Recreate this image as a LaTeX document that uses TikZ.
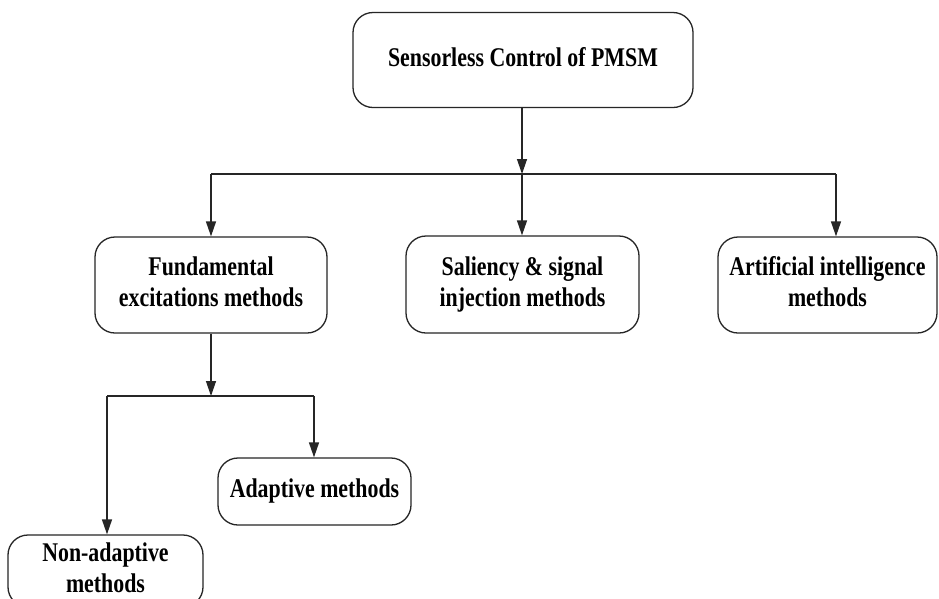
\documentclass[tikz,border=0pt]{standalone}
\usepackage{fontspec}
\setmainfont{Liberation Serif}
\usetikzlibrary{arrows.meta}
\newcommand{\blbl}[1]{\scalebox{0.81}[1]{\fontsize{27}{31}\selectfont\bfseries\begin{tabular}{@{}c@{}}#1\end{tabular}}}
\tikzset{
  box/.style={draw=black!85, line width=1.3pt, rounded corners=20pt, inner sep=0pt, align=center},
  conn/.style={draw=black!85, line width=1.3pt},
  arr/.style={conn, -{Triangle[length=15pt,width=10pt]}}
}
\begin{document}
\begin{tikzpicture}[x=1pt,y=1pt]
\useasboundingbox (0,0) rectangle (939,-598);
\fill[white] (0,0) rectangle (939,-598);
\node[box, minimum width=340pt, minimum height=95pt] (top) at (523,-60) {\blbl{Sensorless Control of PMSM}};
\node[box, minimum width=232pt, minimum height=96pt] (fund) at (211,-285) {\blbl{Fundamental\\excitations methods}};
\node[box, minimum width=233pt, minimum height=97pt] (sal) at (522.5,-284.5) {\blbl{Saliency \& signal\\injection methods}};
\node[box, minimum width=219pt, minimum height=96pt] (ai) at (827.5,-285) {\blbl{Artificial intelligence\\methods}};
\node[box, minimum width=193pt, minimum height=67pt] (adapt) at (314.5,-491.5) {\blbl{Adaptive methods}};
\node[box, minimum width=195pt, minimum height=72pt] (nonad) at (105.5,-571) {\blbl{Non-adaptive\\methods}};
\coordinate (bus) at (522,-174);
\coordinate (busL) at (211,-174);
\coordinate (busR) at (836,-174);
\draw[arr] (top.south -| bus) -- (bus);
\draw[conn] (busL) -- (busR);
\draw[arr] (busL) -- (busL |- fund.north);
\draw[arr] (bus) -- (bus |- sal.north);
\draw[arr] (busR) -- (busR |- ai.north);
\coordinate (bus2) at (211,-396);
\coordinate (b2L) at (107,-396);
\coordinate (b2R) at (314,-396);
\draw[arr] (fund.south) -- (bus2);
\draw[conn] (b2L) -- (b2R);
\draw[arr] (b2L) -- (b2L |- nonad.north);
\draw[arr] (b2R) -- (b2R |- adapt.north);
\end{tikzpicture}
\end{document}
